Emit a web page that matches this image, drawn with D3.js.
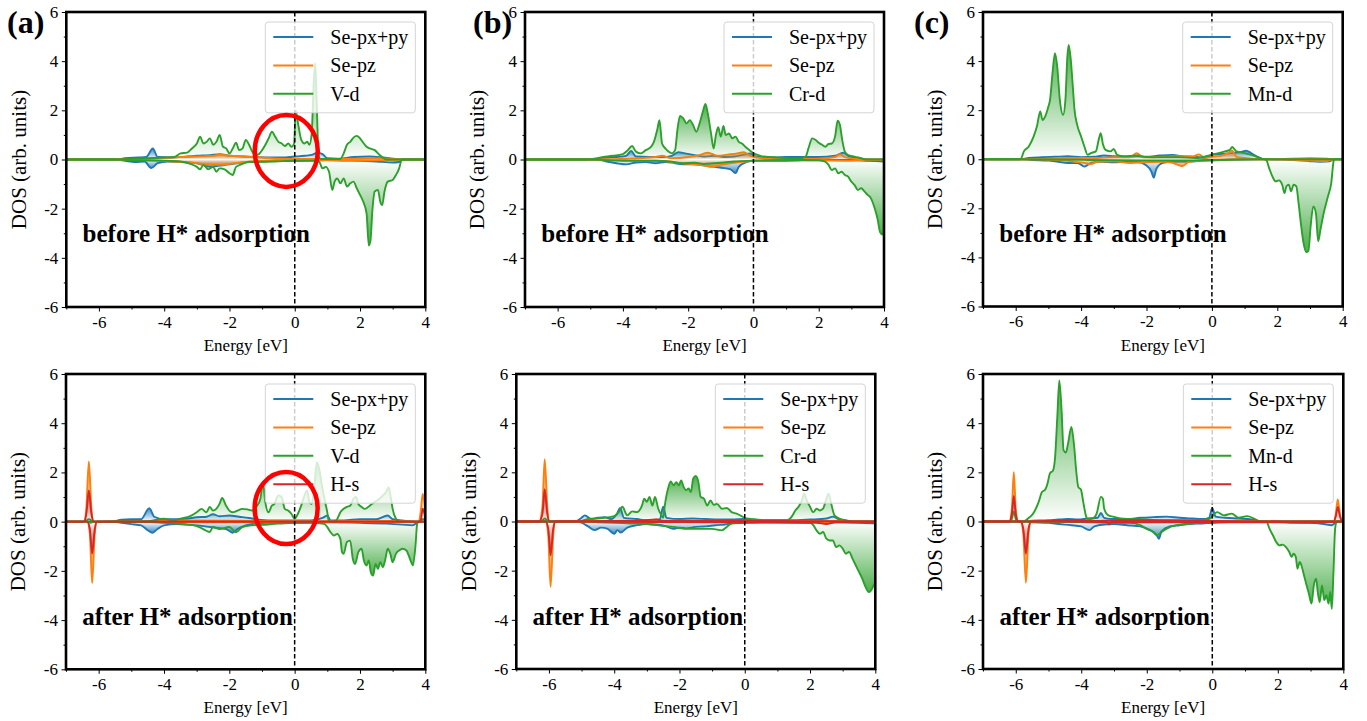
<!DOCTYPE html>
<html>
<head>
<meta charset="utf-8">
<script src="https://cdn.jsdelivr.net/npm/d3@7"></script>
<style>
  body { margin: 0; background: #fff; }
  svg { display: block; }
  text { font-family: "Liberation Serif", "Times New Roman", serif; fill: #000; }
</style>
</head>
<body>
<svg id="fig" width="1367" height="721"></svg>
<script>
// ---------- axis ticks ----------
const energyTicks = [-6, -4, -2, 0, 2, 4];
const dosTicks = [-6, -4, -2, 0, 2, 4, 6];
const energyMinor = [-7, -5, -3, -1, 1, 3];
const dosMinor = [-5, -3, -1, 1, 3, 5];

// ---------- labels ----------
const seLabels = ["Se-px+py", "Se-pz"];
const metalLabels = ["V-d", "Cr-d", "Mn-d"];
const hLabel = "H-s";
const stageLabels = ["before H* adsorption", "after H* adsorption"];
const panelTags = ["(a)", "(b)", "(c)"];
const speciesColors = ["#1f77b4", "#ff7f0e", "#2ca02c", "#d62728"];

// ---------- projected DOS, [energy eV, DOS]; up = spin-up (+), dn = spin-down (-) ----------
// VSe2, before H*
const vB_pxpy_up = [[-7,0],[-5.5,0],[-5.2,0.05],[-4.8,0.08],[-4.55,0.1],[-4.35,0.45],[-4.2,0.1],[-3.8,0.08],[-3.3,0.12],[-3.0,0.15],[-2.6,0.18],[-2.3,0.22],[-2.0,0.15],[-1.6,0.12],[-1.2,0.1],[-0.8,0.08],[-0.4,0.08],[0,0.12],[0.3,0.15],[0.55,0.2],[0.7,0.28],[0.85,0.22],[1.0,0.05],[1.3,0.03],[1.8,0.1],[2.3,0.12],[2.7,0.08],[3.1,0.02],[3.3,0],[4,0]];
const vB_pxpy_dn = [[-7,0],[-5.5,0],[-5.2,-0.05],[-4.9,-0.1],[-4.6,-0.08],[-4.4,-0.35],[-4.2,-0.15],[-3.9,-0.08],[-3.5,-0.1],[-3.0,-0.15],[-2.6,-0.3],[-2.3,-0.25],[-2.0,-0.2],[-1.6,-0.12],[-1.2,-0.1],[-0.8,-0.06],[-0.4,-0.05],[0,-0.05],[0.5,-0.03],[1.0,-0.02],[1.5,-0.04],[2.0,-0.05],[2.5,-0.08],[3.0,-0.12],[3.2,-0.1],[3.3,0],[4,0]];
const vB_pz_up = [[-7,0],[-5,0],[-4.5,0.03],[-4,0.06],[-3.5,0.1],[-3,0.12],[-2.5,0.15],[-2.3,0.2],[-2,0.15],[-1.5,0.12],[-1,0.08],[-0.5,0.03],[0,0.02],[1,0.02],[2,0.03],[2.5,0.05],[3,0.02],[3.3,0],[4,0]];
const vB_pz_dn = [[-7,0],[-5,0],[-4.5,-0.03],[-4,-0.06],[-3.5,-0.1],[-3,-0.15],[-2.7,-0.2],[-2.3,-0.22],[-2,-0.18],[-1.5,-0.1],[-1,-0.05],[-0.5,-0.03],[0,-0.02],[2,-0.04],[3,-0.02],[3.3,0],[4,0]];
const vB_d_up = [[-7,0],[-5.5,0],[-5.0,0.03],[-4.5,0.05],[-4.0,0.08],[-3.7,0.1],[-3.5,0.25],[-3.3,0.28],[-3.15,0.45],[-3.0,0.65],[-2.9,0.93],[-2.8,0.65],[-2.7,0.72],[-2.6,0.86],[-2.5,0.6],[-2.4,0.72],[-2.3,1.0],[-2.2,0.52],[-2.1,0.45],[-2.0,0.25],[-1.9,0.45],[-1.8,0.68],[-1.7,0.38],[-1.6,0.45],[-1.5,0.8],[-1.4,0.6],[-1.3,0.32],[-1.2,0.18],[-1.1,0.22],[-1.0,0.38],[-0.9,0.6],[-0.8,0.86],[-0.7,1.13],[-0.6,0.93],[-0.5,0.72],[-0.4,0.65],[-0.3,0.55],[-0.2,0.65],[-0.1,0.52],[-0.02,0.65],[0.03,2.0],[0.1,1.47],[0.2,0.8],[0.3,0.65],[0.38,0.72],[0.45,0.6],[0.52,1.07],[0.58,3.1],[0.63,3.92],[0.68,2.0],[0.73,0.12],[0.8,0.02],[1.4,0.02],[1.5,0.25],[1.6,0.6],[1.7,0.72],[1.8,0.89],[1.9,0.96],[2.0,0.86],[2.1,0.68],[2.2,0.52],[2.3,0.45],[2.45,0.38],[2.6,0.18],[2.75,0.03],[2.8,0],[4,0]];
const vB_d_dn = [[-7,0],[-5.5,0],[-5.0,-0.03],[-4.4,-0.04],[-4.0,-0.05],[-3.5,-0.08],[-3.2,-0.18],[-3.0,-0.3],[-2.9,-0.4],[-2.8,-0.22],[-2.65,-0.4],[-2.5,-0.3],[-2.4,-0.5],[-2.3,-0.36],[-2.15,-0.4],[-2.0,-0.56],[-1.9,-0.63],[-1.8,-0.3],[-1.6,-0.18],[-1.4,-0.09],[-1.0,-0.09],[-0.6,-0.08],[0,-0.05],[0.6,-0.05],[0.75,-0.1],[0.85,-0.36],[0.95,-0.3],[1.05,-0.5],[1.15,-1.24],[1.22,-0.9],[1.3,-0.77],[1.4,-0.97],[1.5,-0.77],[1.6,-1.1],[1.7,-0.97],[1.8,-0.9],[1.9,-1.17],[2.0,-1.44],[2.1,-1.72],[2.2,-2.19],[2.27,-3.5],[2.32,-3.3],[2.38,-2.05],[2.45,-1.3],[2.55,-1.24],[2.62,-1.72],[2.68,-1.85],[2.75,-1.3],[2.85,-0.9],[3.0,-0.83],[3.1,-0.63],[3.2,-0.36],[3.28,0],[4,0]];

// CrSe2, before H*
const crB_pxpy_up = [[-7,0],[-4.8,0],[-4.5,0.08],[-4.2,0.1],[-3.9,0.15],[-3.75,0.35],[-3.6,0.12],[-3.2,0.1],[-2.8,0.1],[-2.5,0.15],[-2.3,0.3],[-2.1,0.25],[-1.8,0.18],[-1.5,0.12],[-1.2,0.15],[-0.9,0.1],[-0.6,0.12],[-0.3,0.2],[-0.1,0.25],[0,0.15],[0.3,0.1],[0.7,0.08],[1.0,0.1],[1.5,0.1],[2.0,0.1],[2.5,0.15],[2.75,0.28],[2.9,0.15],[3.2,0.05],[3.5,0],[4,0]];
const crB_pxpy_dn = [[-7,0],[-4.8,0],[-4.5,-0.08],[-4.2,-0.15],[-3.9,-0.2],[-3.6,-0.12],[-3.3,-0.1],[-3.0,-0.15],[-2.7,-0.1],[-2.4,-0.15],[-2.1,-0.2],[-1.8,-0.2],[-1.5,-0.25],[-1.2,-0.3],[-0.9,-0.35],[-0.7,-0.4],[-0.55,-0.55],[-0.45,-0.3],[-0.2,-0.1],[0,-0.05],[0.5,-0.05],[1.0,-0.05],[2.0,-0.02],[3.0,-0.02],[3.5,-0.05],[4,-0.08]];
const crB_pz_up = [[-7,0],[-4.6,0],[-4,0.03],[-3.5,0.05],[-3,0.1],[-2.8,0.15],[-2.5,0.05],[-2,0.1],[-1.6,0.2],[-1.4,0.28],[-1.1,0.15],[-0.8,0.2],[-0.5,0.25],[-0.3,0.3],[-0.1,0.15],[0.3,0.05],[1.0,0.02],[2.0,0.03],[2.5,0.1],[2.65,0.22],[2.8,0.1],[3.2,0.02],[3.5,0],[4,0]];
const crB_pz_dn = [[-7,0],[-4.6,0],[-4,-0.03],[-3.5,-0.05],[-3,-0.05],[-2.5,-0.1],[-2.2,-0.15],[-1.8,-0.2],[-1.5,-0.25],[-1.3,-0.3],[-1.0,-0.22],[-0.7,-0.15],[-0.4,-0.1],[0,-0.05],[1,-0.02],[2,-0.03],[3,-0.05],[3.5,-0.02],[4,-0.02]];
const crB_d_up = [[-7,0],[-5.1,0],[-4.6,0.1],[-4.3,0.15],[-4.0,0.22],[-3.85,0.38],[-3.72,0.55],[-3.6,0.32],[-3.45,0.25],[-3.3,0.38],[-3.15,0.5],[-3.05,0.72],[-2.95,1.2],[-2.88,1.6],[-2.8,0.65],[-2.7,0.45],[-2.6,0.32],[-2.5,0.25],[-2.4,0.38],[-2.33,1.2],[-2.25,1.77],[-2.15,1.67],[-2.05,1.47],[-1.95,1.6],[-1.85,1.4],[-1.75,1.13],[-1.65,1.47],[-1.55,1.95],[-1.47,2.26],[-1.4,1.88],[-1.3,1.06],[-1.22,0.45],[-1.15,1.0],[-1.08,1.31],[-1.0,0.93],[-0.92,1.36],[-0.85,1.0],[-0.75,1.06],[-0.65,0.86],[-0.55,0.93],[-0.45,0.72],[-0.35,0.65],[-0.25,0.52],[-0.12,0.38],[0,0.25],[0.15,0.18],[0.3,0.12],[0.6,0.09],[1.0,0.06],[1.4,0.03],[1.6,0.12],[1.7,0.52],[1.8,0.86],[1.9,0.8],[2.0,0.68],[2.1,0.6],[2.2,0.52],[2.3,0.63],[2.4,0.65],[2.5,0.93],[2.58,1.58],[2.65,1.4],[2.72,0.8],[2.8,0.32],[2.9,0.18],[3.1,0.12],[3.3,0.05],[3.45,0],[4,0]];
const crB_d_dn = [[-7,0],[-5,0],[-4.5,-0.03],[-4,-0.05],[-3,-0.05],[-2.5,-0.09],[-2.2,-0.15],[-1.8,-0.13],[-1.5,-0.18],[-1.2,-0.15],[-0.9,-0.12],[-0.6,-0.08],[0,-0.05],[0.5,-0.03],[1.5,-0.02],[2.0,-0.03],[2.2,-0.09],[2.3,-0.22],[2.4,-0.43],[2.5,-0.36],[2.6,-0.56],[2.7,-0.5],[2.8,-0.63],[2.9,-0.7],[3.0,-0.9],[3.1,-1.04],[3.2,-1.24],[3.3,-1.17],[3.4,-1.3],[3.5,-1.44],[3.6,-1.58],[3.7,-1.92],[3.8,-2.4],[3.88,-2.95],[3.95,-3.05],[4.0,-2.87]];

// MnSe2, before H*
const mnB_pxpy_up = [[-7,0],[-5.9,0],[-5.6,0.05],[-5.2,0.08],[-4.8,0.1],[-4.4,0.12],[-4.0,0.08],[-3.6,0.1],[-3.3,0.15],[-3.0,0.12],[-2.6,0.1],[-2.3,0.12],[-2.0,0.1],[-1.6,0.15],[-1.2,0.18],[-0.9,0.12],[-0.5,0.1],[-0.2,0.05],[0,0.2],[0.3,0.22],[0.6,0.25],[0.9,0.3],[1.05,0.35],[1.2,0.25],[1.4,0.1],[1.6,0],[2.5,0.02],[3,0.03],[3.5,0.02],[3.7,0],[4,0]];
const mnB_pxpy_dn = [[-7,0],[-5.9,0],[-5.5,-0.03],[-5,-0.05],[-4.7,-0.1],[-4.4,-0.15],[-4.1,-0.15],[-3.9,-0.3],[-3.7,-0.15],[-3.4,-0.1],[-3.0,-0.12],[-2.6,-0.1],[-2.3,-0.1],[-2.0,-0.25],[-1.85,-0.5],[-1.78,-0.75],[-1.7,-0.4],[-1.5,-0.15],[-1.2,-0.1],[-0.9,-0.1],[-0.5,-0.08],[-0.2,-0.05],[0,-0.05],[0.5,-0.02],[1.5,0],[2.5,-0.03],[3.0,-0.08],[3.3,-0.1],[3.6,-0.08],[3.75,0],[4,0]];
const mnB_pz_up = [[-7,0],[-5.5,0],[-5,0.03],[-4.5,0.05],[-4,0.05],[-3.5,0.05],[-3,0.08],[-2.5,0.08],[-2.3,0.25],[-2.1,0.08],[-1.5,0.1],[-1.0,0.12],[-0.6,0.1],[-0.4,0.2],[-0.2,0.05],[0,0.1],[0.3,0.15],[0.5,0.25],[0.62,0.35],[0.75,0.1],[1.0,0.05],[1.5,0],[3,0.02],[3.7,0],[4,0]];
const mnB_pz_dn = [[-7,0],[-5.5,0],[-5,-0.02],[-4.5,-0.05],[-4.2,-0.1],[-3.9,-0.15],[-3.7,-0.2],[-3.5,-0.1],[-3.0,-0.08],[-2.5,-0.15],[-2.0,-0.12],[-1.5,-0.1],[-1.2,-0.15],[-1.0,-0.25],[-0.9,-0.28],[-0.7,-0.1],[-0.3,-0.05],[0,-0.02],[1,0],[2.5,-0.02],[3.0,-0.05],[3.5,-0.08],[3.7,0],[4,0]];
const mnB_d_up = [[-7,0],[-5.85,0],[-5.75,0.32],[-5.6,0.52],[-5.45,0.93],[-5.35,1.34],[-5.25,1.95],[-5.18,1.6],[-5.1,1.74],[-5.0,2.15],[-4.95,2.42],[-4.87,3.57],[-4.8,4.32],[-4.73,3.78],[-4.65,2.42],[-4.55,1.81],[-4.48,2.42],[-4.42,4.18],[-4.38,4.66],[-4.32,4.12],[-4.25,2.9],[-4.2,2.0],[-4.12,1.4],[-4.0,0.93],[-3.9,0.52],[-3.8,0.18],[-3.7,0.25],[-3.55,0.32],[-3.45,0.86],[-3.4,1.06],[-3.33,0.6],[-3.25,0.38],[-3.1,0.32],[-3.0,0.42],[-2.9,0.18],[-2.7,0.12],[-2.3,0.15],[-2.0,0.09],[-1.5,0.08],[-1.0,0.08],[-0.5,0.05],[0,0.18],[0.2,0.25],[0.4,0.32],[0.55,0.38],[0.62,0.5],[0.75,0.32],[1.0,0.25],[1.2,0.18],[1.4,0.09],[1.6,0],[4,0]];
const mnB_d_dn = [[-7,0],[-5.8,0],[-4,-0.02],[-3.8,-0.03],[-2,-0.05],[-1,-0.05],[0,-0.03],[1.5,0],[1.65,0],[1.75,-0.36],[1.85,-0.7],[1.95,-0.9],[2.05,-0.86],[2.15,-1.04],[2.22,-1.38],[2.28,-1.1],[2.35,-1.04],[2.42,-1.31],[2.5,-1.04],[2.58,-1.1],[2.65,-1.78],[2.72,-2.6],[2.8,-3.4],[2.88,-3.78],[2.95,-3.75],[3.02,-2.73],[3.1,-1.92],[3.18,-2.19],[3.25,-3.34],[3.32,-2.87],[3.42,-2.19],[3.55,-1.51],[3.65,-0.97],[3.72,-0.09],[3.75,0],[4,0]];

// VSe2, after H*
const vA_pxpy_up = [[-7,0],[-5.6,0],[-5.3,0.08],[-5.0,0.1],[-4.7,0.1],[-4.45,0.55],[-4.3,0.2],[-4.0,0.1],[-3.6,0.1],[-3.3,0.12],[-3.0,0.18],[-2.7,0.2],[-2.5,0.3],[-2.3,0.22],[-2.0,0.25],[-1.7,0.2],[-1.4,0.15],[-1.1,0.08],[-0.8,0.05],[-0.4,0.05],[0,0.05],[0.5,0.05],[0.85,0.15],[1.0,0.25],[1.1,0.05],[1.5,0.05],[2.0,0.1],[2.5,0.1],[2.85,0.25],[3.0,0.1],[3.3,0.05],[3.7,0],[4,0]];
const vA_pxpy_dn = [[-7,0],[-5.6,0],[-5.3,-0.05],[-5.0,-0.1],[-4.7,-0.15],[-4.5,-0.35],[-4.35,-0.45],[-4.2,-0.3],[-4.0,-0.15],[-3.6,-0.1],[-3.3,-0.12],[-3.0,-0.15],[-2.7,-0.2],[-2.4,-0.25],[-2.1,-0.3],[-1.9,-0.45],[-1.75,-0.3],[-1.5,-0.15],[-1.2,-0.08],[-0.8,-0.05],[0,-0.05],[1.0,-0.03],[2.0,-0.05],[2.8,-0.08],[3.3,-0.12],[3.6,-0.15],[3.75,-0.05],[3.8,0],[4,0]];
const vA_pz_up = [[-7,0],[-6.45,0],[-6.38,0.5],[-6.3,2.45],[-6.22,0.5],[-6.15,0],[-5,0.02],[-3,0.05],[-1,0.03],[1,0.02],[3,0.03],[3.8,0],[3.86,0.4],[3.92,1.13],[3.97,0.8],[4,0.4]];
const vA_pz_dn = [[-7,0],[-6.35,0],[-6.27,-0.5],[-6.2,-2.49],[-6.12,-0.5],[-6.05,0],[-3,-0.03],[0,-0.02],[3.5,-0.02],[4,0]];
const vA_d_up = [[-7,0],[-6.45,0],[-6.3,0.1],[-6.15,0],[-5.5,0.02],[-4.5,0.02],[-4.0,0.12],[-3.7,0.05],[-3.5,0.12],[-3.2,0.22],[-3.0,0.38],[-2.85,0.52],[-2.7,0.38],[-2.6,0.6],[-2.5,0.45],[-2.4,0.52],[-2.3,0.72],[-2.22,0.96],[-2.1,0.65],[-2.0,0.45],[-1.9,0.38],[-1.75,0.45],[-1.6,0.52],[-1.45,0.5],[-1.3,0.45],[-1.22,0.55],[-1.15,0.65],[-1.05,0.93],[-0.97,1.6],[-0.9,0.8],[-0.8,0.38],[-0.7,0.65],[-0.62,0.72],[-0.5,1.06],[-0.4,1.0],[-0.3,0.52],[-0.2,0.45],[-0.1,0.32],[0,0.12],[0.1,0.32],[0.2,0.65],[0.3,1.06],[0.38,1.27],[0.45,0.8],[0.52,0.72],[0.6,1.4],[0.68,2.42],[0.75,2.15],[0.82,1.6],[0.9,1.0],[1.0,0.38],[1.05,0],[1.2,0],[1.3,0.1],[1.4,0.38],[1.5,0.52],[1.6,0.6],[1.7,0.65],[1.8,0.93],[1.88,1.0],[1.95,0.72],[2.05,0.6],[2.15,0.52],[2.3,0.65],[2.45,0.8],[2.6,0.93],[2.7,1.06],[2.8,1.2],[2.88,1.4],[2.95,0.93],[3.0,0.52],[3.1,0.12],[3.2,0],[3.8,0],[3.9,0.1],[4,0.1]];
const vA_d_dn = [[-7,0],[-6.35,0],[-6.25,-0.05],[-6.15,0],[-5.5,-0.02],[-4.5,-0.02],[-4.0,-0.05],[-3.5,-0.09],[-3.0,-0.18],[-2.8,-0.3],[-2.6,-0.42],[-2.5,-0.22],[-2.3,-0.3],[-2.0,-0.22],[-1.8,-0.43],[-1.6,-0.22],[-1.3,-0.15],[-1.0,-0.13],[-0.5,-0.08],[0,-0.05],[0.5,-0.05],[0.9,-0.09],[1.0,-0.22],[1.1,-0.43],[1.2,-0.56],[1.3,-0.5],[1.4,-0.7],[1.45,-1.24],[1.5,-1.31],[1.6,-0.83],[1.7,-0.77],[1.78,-1.51],[1.85,-1.72],[1.95,-1.24],[2.05,-1.1],[2.12,-1.58],[2.2,-1.78],[2.27,-1.58],[2.33,-2.05],[2.4,-2.19],[2.48,-1.72],[2.55,-1.92],[2.62,-1.65],[2.7,-1.85],[2.78,-1.51],[2.85,-1.1],[2.93,-1.31],[3.0,-1.65],[3.1,-1.31],[3.2,-1.17],[3.3,-1.1],[3.42,-1.17],[3.55,-1.58],[3.62,-1.78],[3.7,-0.97],[3.75,-0.09],[3.8,0],[4,0]];
const vA_hs_up = [[-7,0],[-6.45,0],[-6.38,0.3],[-6.3,1.27],[-6.22,0.3],[-6.15,0],[3.85,0],[3.92,0.53],[3.97,0.35],[4,0.2]];
const vA_hs_dn = [[-7,0],[-6.35,0],[-6.27,-0.3],[-6.2,-1.3],[-6.12,-0.3],[-6.05,0],[4,0]];

// CrSe2, after H*
const crA_pxpy_up = [[-7,0],[-5.2,0],[-5.0,0.15],[-4.9,0.25],[-4.7,0.1],[-4.5,0.15],[-4.3,0.18],[-4.1,0.1],[-3.9,0.35],[-3.82,0.55],[-3.7,0.15],[-3.3,0.1],[-3.0,0.05],[-2.8,0.05],[-2.6,0.1],[-2.5,0.6],[-2.4,0.15],[-2.0,0.1],[-1.6,0.12],[-1.2,0.1],[-0.8,0.08],[-0.4,0.08],[0,0.1],[0.5,0.05],[1.0,0.05],[1.5,0.05],[2.0,0.08],[2.5,0.12],[2.7,0.2],[2.9,0.08],[3.2,0.02],[3.4,0],[4,0]];
const crA_pxpy_dn = [[-7,0],[-5.2,0],[-5.0,-0.05],[-4.8,-0.2],[-4.6,-0.35],[-4.4,-0.25],[-4.2,-0.3],[-4.0,-0.5],[-3.9,-0.35],[-3.8,-0.45],[-3.6,-0.25],[-3.3,-0.15],[-3.0,-0.1],[-2.7,-0.12],[-2.4,-0.2],[-2.2,-0.3],[-2.0,-0.25],[-1.8,-0.28],[-1.5,-0.22],[-1.2,-0.2],[-0.9,-0.15],[-0.6,-0.12],[-0.3,-0.05],[0,-0.03],[1,-0.02],[2,-0.02],[3,-0.03],[3.5,-0.05],[4,-0.08]];
const crA_pz_up = [[-7,0],[-6.3,0],[-6.2,0.6],[-6.13,2.53],[-6.05,0.6],[-5.98,0],[-5,0.02],[-3,0.03],[-2.7,0.08],[-2.5,0.03],[0,0.02],[3,0.02],[4,0]];
const crA_pz_dn = [[-7,0],[-6.1,0],[-6.02,-0.6],[-5.95,-2.66],[-5.87,-0.6],[-5.8,0],[-3,-0.02],[0,-0.02],[4,-0.02]];
const crA_d_up = [[-7,0],[-6.25,0],[-6.13,0.12],[-6.0,0],[-5.1,0],[-4.8,0.1],[-4.4,0.14],[-4.0,0.22],[-3.85,0.41],[-3.75,0.6],[-3.6,0.25],[-3.45,0.41],[-3.3,0.38],[-3.15,0.65],[-3.08,0.93],[-3.0,0.8],[-2.92,1.0],[-2.83,0.65],[-2.75,1.0],[-2.65,0.52],[-2.55,0.25],[-2.5,0.15],[-2.45,0.65],[-2.35,1.34],[-2.27,1.63],[-2.18,1.47],[-2.1,1.6],[-2.02,1.47],[-1.95,1.67],[-1.87,1.4],[-1.8,1.27],[-1.72,1.34],[-1.65,1.2],[-1.58,1.74],[-1.5,1.85],[-1.42,1.6],[-1.35,1.0],[-1.25,0.93],[-1.15,0.65],[-1.05,0.86],[-0.95,0.68],[-0.85,0.72],[-0.7,0.52],[-0.55,0.55],[-0.4,0.38],[-0.25,0.32],[-0.1,0.22],[0.05,0.12],[0.3,0.09],[0.7,0.05],[1.3,0.05],[1.45,0.22],[1.55,0.45],[1.65,0.6],[1.75,0.86],[1.82,1.13],[1.9,0.86],[2.0,0.6],[2.1,0.38],[2.2,0.52],[2.3,0.45],[2.4,0.52],[2.5,0.93],[2.57,1.13],[2.65,0.72],[2.75,0.25],[2.9,0.12],[3.1,0.05],[3.3,0],[4,0]];
const crA_d_dn = [[-7,0],[-5.0,0],[-4.5,-0.03],[-4.0,-0.05],[-3.5,-0.08],[-3.0,-0.1],[-2.5,-0.18],[-2.2,-0.22],[-1.8,-0.3],[-1.4,-0.3],[-1.0,-0.3],[-0.7,-0.36],[-0.55,-0.22],[-0.4,-0.08],[0,-0.05],[1.0,-0.03],[2.0,-0.05],[2.1,-0.15],[2.2,-0.36],[2.3,-0.5],[2.4,-0.43],[2.5,-0.7],[2.6,-0.77],[2.7,-0.77],[2.8,-1.04],[2.9,-0.97],[3.0,-1.1],[3.1,-1.31],[3.2,-1.24],[3.3,-1.51],[3.4,-1.78],[3.5,-2.05],[3.6,-2.32],[3.7,-2.66],[3.8,-2.87],[3.85,-2.84],[3.95,-2.6],[4.0,-2.46]];
const crA_hs_up = [[-7,0],[-6.3,0],[-6.2,0.3],[-6.13,1.31],[-6.05,0.3],[-5.98,0],[-3.3,0.03],[-2.7,0.08],[-2.5,0.02],[0,0.02],[4,0]];
const crA_hs_dn = [[-7,0],[-6.1,0],[-6.02,-0.3],[-5.95,-1.38],[-5.87,-0.3],[-5.8,0],[2.2,-0.05],[2.5,-0.1],[2.8,-0.03],[4,-0.03]];

// MnSe2, after H*
const mnA_pxpy_up = [[-7,0],[-5.9,0],[-5.5,0.03],[-5,0.05],[-4.7,0.08],[-4.4,0.1],[-4.1,0.08],[-3.8,0.12],[-3.5,0.15],[-3.4,0.35],[-3.3,0.15],[-3.0,0.1],[-2.6,0.1],[-2.2,0.15],[-1.8,0.18],[-1.4,0.2],[-1.0,0.15],[-0.6,0.12],[-0.3,0.1],[-0.1,0.15],[0,0.55],[0.1,0.2],[0.4,0.15],[0.8,0.12],[1.2,0.08],[1.5,0],[4,0]];
const mnA_pxpy_dn = [[-7,0],[-5.9,0],[-5.5,-0.03],[-5,-0.05],[-4.7,-0.1],[-4.3,-0.15],[-4.0,-0.2],[-3.75,-0.35],[-3.6,-0.2],[-3.3,-0.12],[-3.0,-0.1],[-2.6,-0.15],[-2.2,-0.2],[-1.9,-0.35],[-1.7,-0.55],[-1.63,-0.7],[-1.55,-0.4],[-1.3,-0.2],[-1.0,-0.15],[-0.7,-0.1],[-0.3,-0.08],[0,-0.05],[0.5,-0.02],[1.5,0],[2.5,-0.02],[3.0,-0.05],[3.4,-0.1],[3.65,-0.15],[3.75,-0.05],[3.8,0],[4,0]];
const mnA_pz_up = [[-7,0],[-6.2,0],[-6.12,0.5],[-6.06,2.01],[-6.0,0.5],[-5.92,0],[-5,0.02],[-3,0.03],[0,0.02],[3.7,0],[3.77,0.3],[3.83,0.9],[3.9,0.3],[3.96,0],[4,0]];
const mnA_pz_dn = [[-7,0],[-5.85,0],[-5.77,-0.5],[-5.69,-2.49],[-5.61,-0.5],[-5.53,0],[-3.2,-0.03],[0,-0.02],[4,0]];
const mnA_d_up = [[-7,0],[-6.15,0],[-6.06,0.4],[-5.97,0],[-5.79,0],[-5.6,0.15],[-5.47,0.32],[-5.3,0.8],[-5.2,1.2],[-5.1,1.3],[-5.02,1.6],[-4.96,1.95],[-4.86,2.08],[-4.8,2.6],[-4.73,4.3],[-4.67,5.74],[-4.6,4.5],[-4.54,2.9],[-4.47,2.8],[-4.4,3.2],[-4.3,3.85],[-4.22,3.1],[-4.15,2.0],[-4.09,1.4],[-4.01,1.3],[-3.94,0.8],[-3.85,0.2],[-3.8,0.1],[-3.65,0.12],[-3.53,0.32],[-3.4,1.0],[-3.34,0.93],[-3.3,0.52],[-3.17,0.25],[-2.97,0.18],[-2.8,0.12],[-2.5,0.1],[-2.0,0.08],[-1.5,0.05],[-1.0,0.05],[-0.5,0.05],[-0.1,0.1],[0.15,0.38],[0.35,0.25],[0.6,0.32],[0.8,0.15],[1.07,0.22],[1.38,0.05],[1.48,0],[4,0]];
const mnA_d_dn = [[-7,0],[-5.8,0],[-4,-0.02],[-3.0,-0.05],[-2.5,-0.05],[-2.2,-0.15],[-2.0,-0.3],[-1.8,-0.43],[-1.7,-0.56],[-1.55,-0.43],[-1.4,-0.3],[-1.1,-0.15],[-0.8,-0.1],[-0.4,-0.05],[0,-0.03],[0.5,-0.02],[1.5,0],[1.65,0],[1.75,-0.3],[1.85,-0.56],[1.95,-0.83],[2.05,-0.97],[2.15,-0.94],[2.25,-1.04],[2.35,-1.24],[2.42,-1.44],[2.48,-1.31],[2.55,-1.44],[2.6,-1.92],[2.67,-1.65],[2.72,-1.78],[2.8,-2.19],[2.88,-2.6],[2.95,-2.94],[3.03,-3.34],[3.1,-2.6],[3.17,-2.33],[3.22,-2.87],[3.28,-3.28],[3.35,-2.6],[3.42,-3.2],[3.48,-3.0],[3.55,-3.34],[3.6,-2.87],[3.65,-3.55],[3.7,-2.05],[3.75,-0.3],[3.8,0],[4,0]];
const mnA_hs_up = [[-7,0],[-6.2,0],[-6.12,0.3],[-6.06,1.04],[-6.0,0.3],[-5.92,0],[-4.0,0.05],[-3.8,0.02],[-2.7,0.05],[0,0.02],[3.7,0],[3.77,0.2],[3.83,0.59],[3.9,0.2],[3.96,0],[4,0]];
const mnA_hs_dn = [[-7,0],[-5.85,0],[-5.77,-0.3],[-5.69,-1.31],[-5.61,-0.3],[-5.53,0],[-3.2,-0.02],[-3.15,-0.12],[-3.1,-0.02],[2.0,-0.03],[2.5,-0.05],[4,0]];

// highlighted region around the Fermi level in the VSe2 panels: [energy, DOS]
const vHighlightBefore = [-0.26, 0.35];
const vHighlightAfter = [-0.26, 0.55];

// ---------- panel table ----------
const panels = [
  { tag: panelTags[0], stage: 0, metal: metalLabels[0], frame: [66.3, 12, 425.3, 307],
    series: [[vB_pxpy_up, vB_pxpy_dn], [vB_pz_up, vB_pz_dn], [vB_d_up, vB_d_dn]], mark: vHighlightBefore },
  { tag: panelTags[1], stage: 0, metal: metalLabels[1], frame: [525, 12, 884, 307],
    series: [[crB_pxpy_up, crB_pxpy_dn], [crB_pz_up, crB_pz_dn], [crB_d_up, crB_d_dn]] },
  { tag: panelTags[2], stage: 0, metal: metalLabels[2], frame: [983, 12, 1342.7, 306.5],
    series: [[mnB_pxpy_up, mnB_pxpy_dn], [mnB_pz_up, mnB_pz_dn], [mnB_d_up, mnB_d_dn]] },
  { stage: 1, metal: metalLabels[0], frame: [66, 374, 425.3, 669.3],
    series: [[vA_pxpy_up, vA_pxpy_dn], [vA_pz_up, vA_pz_dn], [vA_d_up, vA_d_dn], [vA_hs_up, vA_hs_dn]], mark: vHighlightAfter },
  { stage: 1, metal: metalLabels[1], frame: [516.3, 374, 875.3, 669],
    series: [[crA_pxpy_up, crA_pxpy_dn], [crA_pz_up, crA_pz_dn], [crA_d_up, crA_d_dn], [crA_hs_up, crA_hs_dn]] },
  { stage: 1, metal: metalLabels[2], frame: [983, 374, 1343.3, 669],
    series: [[mnA_pxpy_up, mnA_pxpy_dn], [mnA_pz_up, mnA_pz_dn], [mnA_d_up, mnA_d_dn], [mnA_hs_up, mnA_hs_dn]] }
];

const serif = "'Liberation Serif', 'Times New Roman', Times, serif";
const svg = d3.select("#fig");
const defs = svg.append("defs");

panels.forEach((p, pi) => {
  const [L, T, R, B] = p.frame;
  const x = d3.scaleLinear().domain([-7, 4]).range([L, R]);
  const y = d3.scaleLinear().domain([-6, 6]).range([B, T]);
  const g = svg.append("g");

  const clipId = `clip${pi}`;
  defs.append("clipPath").attr("id", clipId)
    .append("rect").attr("x", L).attr("y", T).attr("width", R - L).attr("height", B - T);

  const plot = g.append("g").attr("clip-path", `url(#${clipId})`);

  const area = d3.area().x(d => x(d[0])).y0(y(0)).y1(d => y(d[1])).curve(d3.curveMonotoneX);
  const line = d3.line().x(d => x(d[0])).y(d => y(d[1])).curve(d3.curveMonotoneX);

  // shaded spin channels: colour fades out towards the zero line
  p.series.forEach((pair, si) => {
    const col = speciesColors[si];
    pair.forEach((data, k) => {
      const ext = k === 0 ? d3.max(data, d => d[1]) : d3.min(data, d => d[1]);
      const gid = `grad${pi}_${si}_${k}`;
      const lg = defs.append("linearGradient").attr("id", gid)
        .attr("gradientUnits", "userSpaceOnUse")
        .attr("x1", 0).attr("x2", 0).attr("y1", y(0)).attr("y2", y(ext === 0 ? (k === 0 ? 0.01 : -0.01) : ext));
      lg.append("stop").attr("offset", 0).attr("stop-color", col).attr("stop-opacity", 0);
      lg.append("stop").attr("offset", 1).attr("stop-color", col).attr("stop-opacity", 0.85);
      plot.append("path").datum(data).attr("d", area).attr("fill", `url(#${gid})`);
    });
    pair.forEach(data => {
      plot.append("path").datum(data).attr("d", line)
        .attr("fill", "none").attr("stroke", col).attr("stroke-width", 1.9)
        .attr("stroke-linejoin", "round");
    });
  });

  // stage caption
  g.append("text")
    .attr("x", x(-6.5)).attr("y", y(p.stage === 0 ? -3.36 : -4.2))
    .attr("font-size", 25).attr("font-weight", "bold")
    .text(stageLabels[p.stage]);

  // Fermi level
  g.append("line")
    .attr("x1", x(0)).attr("x2", x(0)).attr("y1", T).attr("y2", B)
    .attr("stroke", "#000").attr("stroke-width", 1.5).attr("stroke-dasharray", "4.5,2.5");

  // legend
  const labels = seLabels.concat([p.metal]).concat(p.series.length > 3 ? [hLabel] : []);
  const n = labels.length;
  const lw = 150, lh = 15 + 28.4 * (n - 1) + 19;
  const lx = R - 10 - lw, ly = T + 10;
  const leg = g.append("g");
  leg.append("rect").attr("x", lx).attr("y", ly).attr("width", lw).attr("height", lh)
    .attr("rx", 3).attr("fill", "#fff").attr("fill-opacity", 0.8)
    .attr("stroke", "#d4d4d4").attr("stroke-width", 1);
  labels.forEach((lab, i) => {
    const cy = ly + 15 + i * 28.4;
    leg.append("line").attr("x1", lx + 8).attr("x2", lx + 48).attr("y1", cy).attr("y2", cy)
      .attr("stroke", speciesColors[i]).attr("stroke-width", 2);
    leg.append("text").attr("x", lx + 65).attr("y", cy).attr("dy", "0.34em")
      .attr("font-size", 20).text(lab);
  });

  // axes
  const xAxis = d3.axisBottom(x).tickValues(energyTicks).tickSize(4.5).tickPadding(4).tickFormat(d3.format("d"));
  const yAxis = d3.axisLeft(y).tickValues(dosTicks).tickSize(4.5).tickPadding(3.5).tickFormat(d3.format("d"));
  const xMinor = d3.axisBottom(x).tickValues(energyMinor).tickSize(2.5).tickFormat("");
  const yMinor = d3.axisLeft(y).tickValues(dosMinor).tickSize(2.5).tickFormat("");

  [g.append("g").attr("transform", `translate(0,${B})`).call(xAxis),
   g.append("g").attr("transform", `translate(${L},0)`).call(yAxis),
   g.append("g").attr("transform", `translate(0,${B})`).call(xMinor),
   g.append("g").attr("transform", `translate(${L},0)`).call(yMinor)].forEach(ax => {
    ax.attr("font-family", null).attr("font-size", null);
    ax.select(".domain").remove();
    ax.selectAll(".tick line").attr("stroke", "#000").attr("stroke-width", 1);
    ax.selectAll(".tick text").attr("font-size", 17).attr("fill", "#000")
      .text(function() { return this.textContent.replace("\u2212", "-"); });
  });

  g.append("rect").attr("x", L).attr("y", T).attr("width", R - L).attr("height", B - T)
    .attr("fill", "none").attr("stroke", "#000").attr("stroke-width", 2.6);

  g.append("text").attr("x", (L + R) / 2).attr("y", B + 44)
    .attr("text-anchor", "middle").attr("font-size", 17).text("Energy [eV]");

  g.append("text")
    .attr("transform", `translate(${L - 48},${(T + B) / 2}) rotate(-90)`)
    .attr("dy", "0.35em").attr("text-anchor", "middle").attr("font-size", 21)
    .text("DOS (arb. units)");

  if (p.tag) {
    g.append("text").attr("x", [7, 473, 914][pi]).attr("y", 33)
      .attr("font-size", 32).attr("font-weight", "bold").text(p.tag);
  }

  if (p.mark) {
    g.append("ellipse").attr("cx", x(p.mark[0])).attr("cy", y(p.mark[1]))
      .attr("rx", 31.5).attr("ry", 36).attr("fill", "none")
      .attr("stroke", "#ff0000").attr("stroke-width", 4.5);
  }
});

// every label uses the Times-metric serif face
svg.selectAll("text").style("font-family", serif);
</script>
</body>
</html>
